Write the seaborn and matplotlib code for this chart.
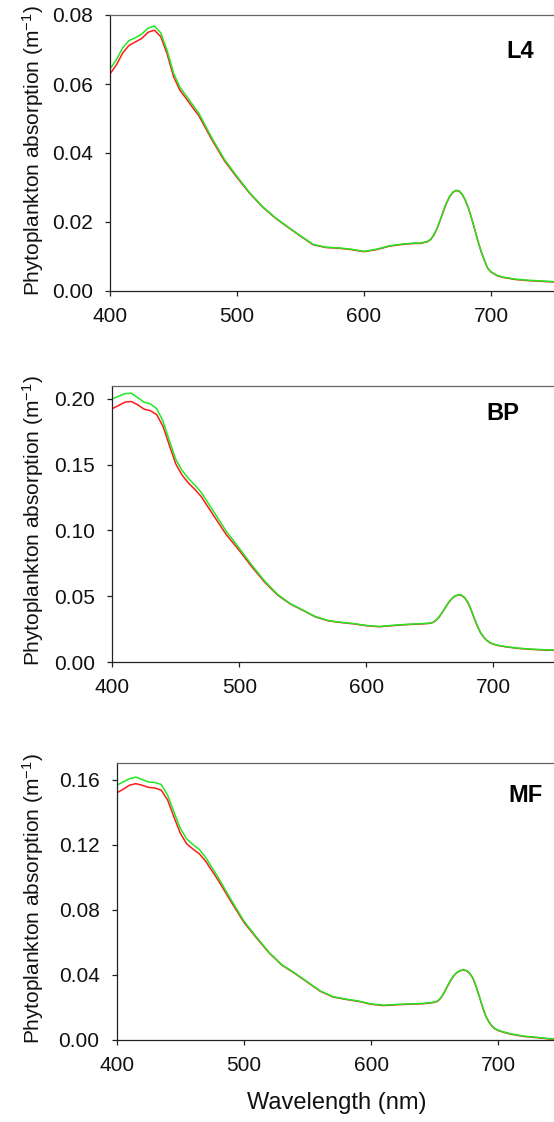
import numpy as np
import pandas as pd
import matplotlib
matplotlib.use("Agg")
import matplotlib.pyplot as plt
import seaborn as sns

# ---------------- data ----------------
wavelength = [400, 405, 410, 415, 420, 425, 430, 435, 440, 445, 450, 455, 460, 465, 470,
              480, 490, 500, 510, 520, 530, 540, 550, 560, 570, 580, 590, 600, 610, 620,
              630, 640, 645, 650, 652.5, 655, 657.5, 660, 662.5, 665, 667.5, 670, 672.5,
              675, 677.5, 680, 682.5, 685, 687.5, 690, 692.5, 695, 697.5, 700, 705,
              710, 720, 730, 740, 750]

l4_green = [0.0644, 0.0670, 0.0705, 0.0726, 0.0734, 0.0745, 0.0762, 0.0768, 0.0748, 0.0697,
            0.0632, 0.0591, 0.0566, 0.0540, 0.0515, 0.0445, 0.0382, 0.0332, 0.0285, 0.0245,
            0.0213, 0.0186, 0.0160, 0.0135, 0.0127, 0.0125, 0.0121, 0.0115, 0.0121, 0.0131,
            0.0136, 0.0139, 0.0139, 0.0144, 0.0150, 0.0163, 0.0182, 0.0206, 0.0232, 0.0256,
            0.0275, 0.0287, 0.0292, 0.0290, 0.0280, 0.0262, 0.0238, 0.0208, 0.0175, 0.0142,
            0.0112, 0.0088, 0.0066, 0.0056, 0.0045, 0.0040, 0.0034, 0.0031, 0.0029, 0.0027]
l4_red = [0.0629, 0.0655, 0.0690, 0.0712, 0.0722, 0.0732, 0.0750, 0.0756, 0.0737, 0.0687,
          0.0622, 0.0582, 0.0558, 0.0532, 0.0508, 0.0440, 0.0378, 0.0329, 0.0283, 0.0244,
          0.0212, 0.0185, 0.0159, 0.0134, 0.0126, 0.0124, 0.0120, 0.0114, 0.0120, 0.0130,
          0.0135, 0.0138, 0.0138, 0.0143, 0.0149, 0.0162, 0.0181, 0.0205, 0.0231, 0.0255,
          0.0274, 0.0286, 0.0291, 0.0289, 0.0279, 0.0261, 0.0237, 0.0207, 0.0174, 0.0141,
          0.0111, 0.0087, 0.0065, 0.0055, 0.0044, 0.0039, 0.0033, 0.0030, 0.0028, 0.0026]

bp_green = [0.2000, 0.2020, 0.2040, 0.2042, 0.2010, 0.1975, 0.1962, 0.1925, 0.1830, 0.1680,
            0.1540, 0.1455, 0.1395, 0.1345, 0.1290, 0.1140, 0.0990, 0.0865, 0.0735, 0.0615,
            0.0515, 0.0445, 0.0395, 0.0345, 0.0315, 0.0302, 0.0292, 0.0278, 0.0270, 0.0278,
            0.0285, 0.0290, 0.0292, 0.0296, 0.0302, 0.0318, 0.0345, 0.0380, 0.0418, 0.0455,
            0.0484, 0.0503, 0.0511, 0.0508, 0.0490, 0.0455, 0.0400, 0.0335, 0.0275, 0.0225,
            0.0190, 0.0165, 0.0148, 0.0137, 0.0125, 0.0117, 0.0105, 0.0098, 0.0093, 0.0090]
bp_red = [0.1926, 0.1950, 0.1975, 0.1980, 0.1955, 0.1922, 0.1910, 0.1880, 0.1790, 0.1645,
          0.1505, 0.1420, 0.1360, 0.1312, 0.1258, 0.1110, 0.0965, 0.0848, 0.0722, 0.0607,
          0.0510, 0.0442, 0.0393, 0.0343, 0.0313, 0.0300, 0.0290, 0.0276, 0.0268, 0.0276,
          0.0283, 0.0288, 0.0290, 0.0294, 0.0300, 0.0316, 0.0343, 0.0378, 0.0416, 0.0453,
          0.0482, 0.0501, 0.0509, 0.0506, 0.0488, 0.0453, 0.0398, 0.0333, 0.0273, 0.0223,
          0.0188, 0.0163, 0.0146, 0.0135, 0.0123, 0.0115, 0.0103, 0.0096, 0.0091, 0.0088]

mf_green = [0.1565, 0.1585, 0.1605, 0.1615, 0.1600, 0.1585, 0.1582, 0.1570, 0.1505, 0.1400,
            0.1300, 0.1235, 0.1200, 0.1170, 0.1120, 0.0995, 0.0860, 0.0730, 0.0630, 0.0535,
            0.0460, 0.0410, 0.0355, 0.0300, 0.0265, 0.0250, 0.0238, 0.0220, 0.0212, 0.0217,
            0.0220, 0.0223, 0.0226, 0.0232, 0.0240, 0.0260, 0.0292, 0.0330, 0.0365, 0.0395,
            0.0415, 0.0426, 0.0430, 0.0426, 0.0410, 0.0380, 0.0330, 0.0270, 0.0205, 0.0150,
            0.0112, 0.0085, 0.0068, 0.0058, 0.0046, 0.0036, 0.0022, 0.0015, 0.0006, 0.0002]
mf_red = [0.1518, 0.1540, 0.1565, 0.1575, 0.1565, 0.1552, 0.1548, 0.1535, 0.1475, 0.1370,
          0.1270, 0.1205, 0.1172, 0.1143, 0.1097, 0.0978, 0.0848, 0.0722, 0.0625, 0.0532,
          0.0458, 0.0408, 0.0353, 0.0298, 0.0263, 0.0248, 0.0236, 0.0218, 0.0210, 0.0215,
          0.0218, 0.0221, 0.0224, 0.0230, 0.0238, 0.0258, 0.0290, 0.0328, 0.0363, 0.0393,
          0.0413, 0.0424, 0.0428, 0.0424, 0.0408, 0.0378, 0.0328, 0.0268, 0.0203, 0.0148,
          0.0110, 0.0083, 0.0066, 0.0056, 0.0044, 0.0034, 0.0020, 0.0013, 0.0005, 0.0001]

stations = ["L4", "BP", "MF"]
green_series = [l4_green, bp_green, mf_green]
red_series = [l4_red, bp_red, mf_red]
y_limits = [0.08, 0.21, 0.17]
y_ticks = [[0.00, 0.02, 0.04, 0.06, 0.08],
           [0.00, 0.05, 0.10, 0.15, 0.20],
           [0.00, 0.04, 0.08, 0.12, 0.16]]
x_ticks = [400, 500, 600, 700]

# ---------------- style ----------------
sns.set_theme(style="ticks")
plt.rcParams["font.family"] = ["Liberation Sans", "DejaVu Sans"]
plt.rcParams["mathtext.default"] = "regular"

W, H = 554, 1122
fig = plt.figure(figsize=(W / 100, H / 100), dpi=100)

# axes boxes in pixels: left, top, bottom, width
boxes = [(110.0, 15.0, 291.0, 444.5),
         (112.3, 385.7, 662.0, 444.4),
         (116.7, 763.3, 1039.7, 445.2)]
label_px = [(520, 52), (503, 413), (525, 796)]

for i, name in enumerate(stations):
    left, top, bottom, width = boxes[i]
    ax = fig.add_axes([left / W, 1 - bottom / H, width / W, (bottom - top) / H])
    df = pd.DataFrame({
        "Wavelength": wavelength * 2,
        "Absorption": list(red_series[i]) + list(green_series[i]),
        "Series": ["red"] * len(wavelength) + ["green"] * len(wavelength),
    })
    sns.lineplot(data=df, x="Wavelength", y="Absorption", hue="Series",
                 palette={"red": "#ff1a1a", "green": "#22e822"}, linewidth=1.1,
                 legend=False, ax=ax)
    ax.set_xlim(400, 750)
    ax.set_ylim(0, y_limits[i])
    ax.set_xticks(x_ticks)
    ax.set_xticklabels([str(t) for t in x_ticks])
    ax.set_yticks(y_ticks[i])
    ax.set_yticklabels([f"{t:.2f}" for t in y_ticks[i]])
    ax.tick_params(axis="both", labelsize=15, length=3.3, width=0.9, color="#222222",
                   labelcolor="#111111", direction="out")
    ax.tick_params(axis="x", pad=8.5)
    ax.tick_params(axis="y", pad=9)
    for s in ["left", "bottom"]:
        ax.spines[s].set_color("#222222")
        ax.spines[s].set_linewidth(0.9)
    ax.spines["top"].set_color("#666666")
    ax.spines["top"].set_linewidth(0.9)
    ax.spines["right"].set_visible(False)

    ax.set_ylabel("Phytoplankton absorption (m$^{-1}$)", fontsize=15, color="#111111")
    ax.yaxis.set_label_coords((46 - left) / width, 0.51)
    if i == 2:
        ax.set_xlabel("Wavelength (nm)", fontsize=17, color="#111111")
        ax.xaxis.set_label_coords(0.495, (bottom - 1091.5) / (bottom - top))
    else:
        ax.set_xlabel("")

    px, py = label_px[i]
    fig.text(px / W, 1 - py / H, name, fontsize=17, fontweight="bold",
             ha="center", va="center", color="#000000")

fig.savefig("out.png", dpi=100)
